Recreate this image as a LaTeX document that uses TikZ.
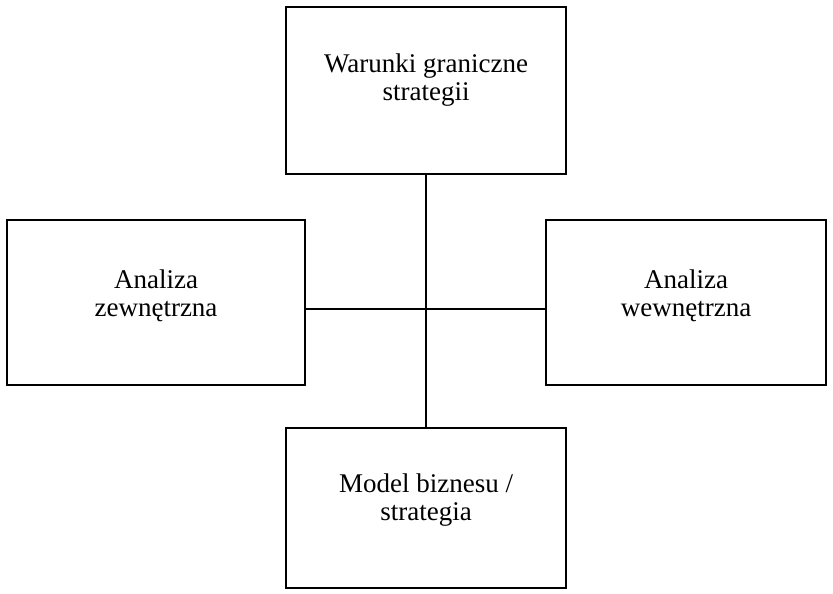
\documentclass[tikz,border=0pt]{standalone}
\usepackage{fontspec}
\setmainfont{Liberation Serif}
\usepackage{tikz}
\tikzset{blok/.style={draw, line width=0.6pt, inner sep=0pt, minimum width=#1}}
\tikzset{blok/.default=140pt}
\tikzset{opis/.style={align=center, font=\fontsize{13.5}{14}\selectfont}}
\begin{document}
\begin{tikzpicture}[x=0.5pt, y=-0.5pt]
            \useasboundingbox (0,0) rectangle (833,593);
            \node[blok, minimum height=83.5pt, label={[opis, yshift=5pt]center:Warunki graniczne\\strategii}] (warunki) at (426,90.5) {};
            \node[blok=149pt, minimum height=82.5pt, label={[opis, yshift=3.5pt]center:Analiza\\zewnętrzna}] (zewn) at (156,302.5) {};
            \node[blok, minimum height=82.5pt, label={[opis, yshift=3.5pt]center:Analiza\\wewnętrzna}] (wewn) at (686,302.5) {};
            \node[blok, minimum height=80pt, label={[opis, yshift=4pt]center:Model biznesu /\\strategia}] (model) at (426,508) {};
            \coordinate (srodek) at (426,309);
            \draw[line width=0.6pt] (warunki) -- (model);
            \draw[line width=0.6pt] (zewn.east |- srodek) -- (wewn.west |- srodek);
        \end{tikzpicture}
\end{document}
